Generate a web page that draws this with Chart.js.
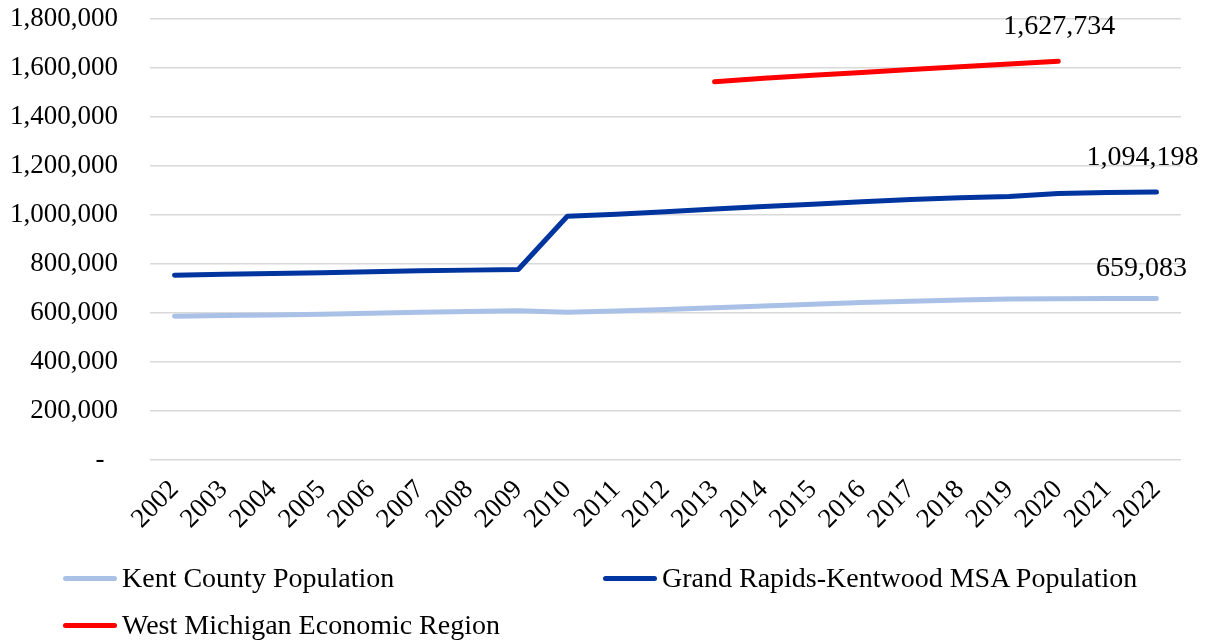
<!DOCTYPE html>
<html>
<head>
<meta charset="utf-8">
<script src="https://cdn.jsdelivr.net/npm/chart.js@4.4.1/dist/chart.umd.min.js"></script>
<style>
  html, body { margin: 0; padding: 0; background: #ffffff; }
  #wrap { position: relative; width: 1210px; height: 640px; }
  #chart { position: absolute; left: 0; top: 0; }
  .legend { position: absolute; left: 0; top: 0; width: 1210px; height: 640px; pointer-events: none;
            font-family: "Liberation Serif", "Times New Roman", serif; font-size: 28px; color: #000; }
  .legend .item { position: absolute; display: flex; align-items: center; white-space: nowrap; }
  .legend .swatch { width: 54px; height: 5px; border-radius: 3px; margin-right: 5px; }
</style>
</head>
<body>
<div id="wrap">
  <canvas id="chart" width="1210" height="640"></canvas>
  <div class="legend" id="legend"></div>
</div>
<script>
// Population series, 2002-2022
const years = ['2002','2003','2004','2005','2006','2007','2008','2009','2010','2011','2012',
               '2013','2014','2015','2016','2017','2018','2019','2020','2021','2022'];

const kentCounty = [586500, 589500, 592000, 595000, 599000, 603000, 606000, 609500, 603000, 608000, 614000,
                    621000, 629000, 635500, 642500, 648000, 653000, 657000, 658500, 658800, 659083];

const grandRapidsMsa = [754000, 758000, 761000, 764500, 768000, 772000, 775000, 777500, 995000, 1003000, 1013000,
                        1024000, 1035000, 1044000, 1054000, 1063000, 1070000, 1076000, 1088000, 1091500, 1094198];

const westMichigan = [null, null, null, null, null, null, null, null, null, null, null,
                      1544000, 1558000, 1570000, 1582000, 1594000, 1605000, 1616000, 1627734, null, null];

const seriesNames = ['Kent County Population', 'Grand Rapids-Kentwood MSA Population', 'West Michigan Economic Region'];
const seriesColors = ['#aac1e7', '#0035a0', '#ff0000'];

const yTicks = [0, 200000, 400000, 600000, 800000, 1000000, 1200000, 1400000, 1600000, 1800000];

const FONT = '"Liberation Serif", "Times New Roman", serif';
const fmt = v => v.toLocaleString('en-US');

// Label the last value of each series, nudged so it stays inside the canvas
const labelNudge = [[-15, -30], [-14, -34], [1, -35]];
const endLabels = {
  id: 'endLabels',
  afterDatasetsDraw(chart) {
    const ctx = chart.ctx;
    ctx.save();
    ctx.font = '28px ' + FONT;
    ctx.fillStyle = '#000';
    ctx.textAlign = 'center';
    ctx.textBaseline = 'middle';
    chart.data.datasets.forEach((ds, i) => {
      const meta = chart.getDatasetMeta(i);
      let last = -1;
      ds.data.forEach((v, j) => { if (v !== null) last = j; });
      if (last < 0) return;
      const pt = meta.data[last];
      ctx.fillText(fmt(ds.data[last]), pt.x + labelNudge[i][0], pt.y + labelNudge[i][1]);
    });
    ctx.restore();
  }
};

const mkSet = (i, data) => ({
  label: seriesNames[i],
  data: data,
  borderColor: seriesColors[i],
  backgroundColor: seriesColors[i],
  borderWidth: 5,
  borderCapStyle: 'round',
  borderJoinStyle: 'round',
  pointRadius: 0,
  pointHoverRadius: 0,
  tension: 0,
  spanGaps: false
});

const chart = new Chart(document.getElementById('chart'), {
  type: 'line',
  data: {
    labels: years,
    datasets: [mkSet(0, kentCounty), mkSet(1, grandRapidsMsa), mkSet(2, westMichigan)]
  },
  options: {
    responsive: false,
    animation: false,
    layout: { padding: { left: 0, right: 29, top: 19, bottom: 0 } },
    plugins: {
      legend: { display: false },
      tooltip: { enabled: false }
    },
    scales: {
      x: {
        offset: true,
        grid: { display: false, drawTicks: false },
        border: { display: false },
        ticks: {
          color: '#000',
          font: { family: FONT, size: 27 },
          minRotation: 45,
          maxRotation: 45,
          autoSkip: false,
          padding: 14
        },
        afterFit(scale) { scale.height = 180; scale.paddingTop = 0; scale.paddingBottom = 0; }
      },
      y: {
        min: 0,
        max: 1800000,
        afterBuildTicks(scale) { scale.ticks = yTicks.map(v => ({ value: v })); },
        grid: { color: '#d9d9d9', lineWidth: 1.5, drawTicks: false },
        border: { display: false },
        ticks: {
          color: '#000',
          font: { family: FONT, size: 27 },
          padding: 32,
          callback: v => v === 0 ? '-\u00a0\u00a0' : fmt(v)
        },
        afterFit(scale) { scale.width = 150; scale.paddingTop = 0; scale.paddingBottom = 0; }
      }
    }
  },
  plugins: [endLabels]
});

// Two-column legend beneath the axis
const legendPos = [[63, 578], [603, 578], [63, 625]];
const legendEl = document.getElementById('legend');
chart.data.datasets.forEach((ds, i) => {
  const item = document.createElement('div');
  item.className = 'item';
  item.style.left = legendPos[i][0] + 'px';
  item.style.top = (legendPos[i][1] - 16) + 'px';
  item.style.height = '32px';
  const sw = document.createElement('span');
  sw.className = 'swatch';
  sw.style.background = ds.borderColor;
  const tx = document.createElement('span');
  tx.textContent = ds.label;
  item.appendChild(sw);
  item.appendChild(tx);
  legendEl.appendChild(item);
});
</script>
</body>
</html>
